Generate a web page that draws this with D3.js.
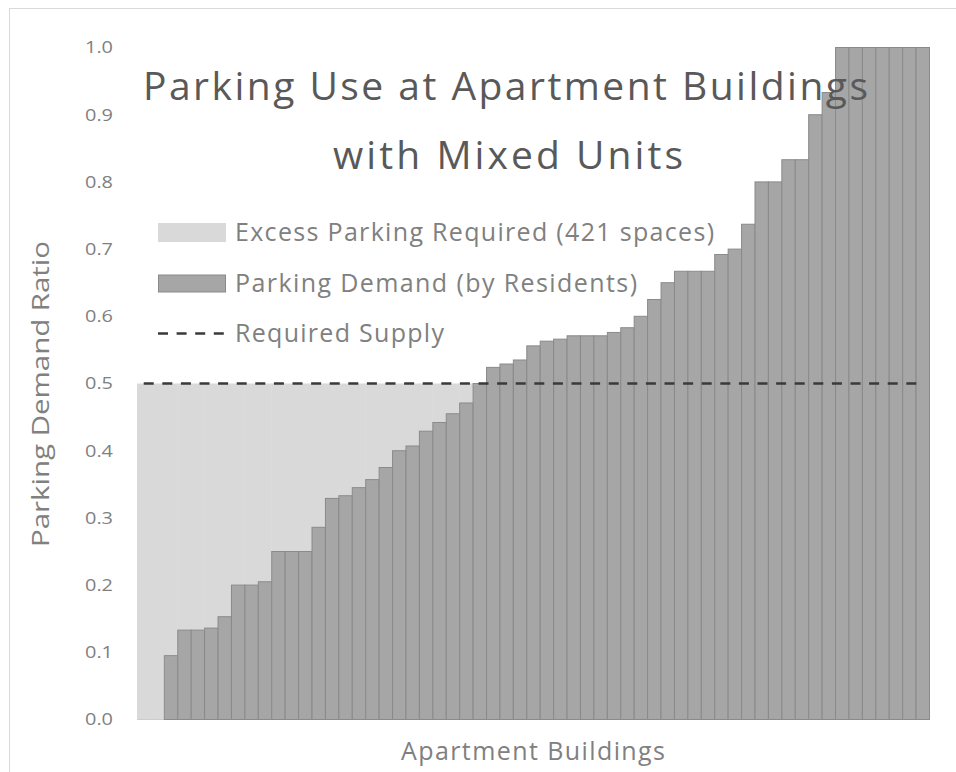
<!DOCTYPE html>
<html>
<head>
<meta charset="utf-8">
<script src="https://cdn.jsdelivr.net/npm/d3@7"></script>
<style>
  body { margin: 0; background: #fff; }
  svg { font-family: "Open Sans", "Lato", sans-serif; }
</style>
</head>
<body>
<div id="chart"></div>
<script>
// demand ratio per building, sorted ascending (first two buildings have no resident parking)
const demand = [
  0, 0,
  0.095, 0.133, 0.133, 0.136, 0.153, 0.2, 0.2, 0.205, 0.25, 0.25,
  0.25, 0.286, 0.329, 0.333, 0.345, 0.357, 0.375, 0.4, 0.407, 0.429,
  0.442, 0.455, 0.471, 0.5, 0.524, 0.529, 0.535, 0.556, 0.563, 0.566,
  0.571, 0.571, 0.571, 0.576, 0.583, 0.6, 0.625, 0.65, 0.667, 0.667,
  0.667, 0.692, 0.7, 0.737, 0.8, 0.8, 0.833, 0.833, 0.9, 0.933,
  1, 1, 1, 1, 1, 1, 1
];
const buildings = demand.map((d, i) => "B" + (i + 1));
const requiredSupply = 0.5;
const yTicks = [0, 0.1, 0.2, 0.3, 0.4, 0.5, 0.6, 0.7, 0.8, 0.9, 1.0];
const titleLines = ["Parking Use at Apartment Buildings", "with Mixed Units"];
const legendLabels = ["Excess Parking Required (421 spaces)", "Parking Demand (by Residents)", "Required Supply"];

const W = 956, H = 772;
const plot = { left: 137, right: 929, top: 47.5, bottom: 719.5 };

const svg = d3.select("#chart").append("svg")
  .attr("width", W)
  .attr("height", H);

// chart frame (cut off on the right / bottom like the source)
svg.append("rect")
  .attr("x", 9.5).attr("y", 8.5)
  .attr("width", W + 20).attr("height", H + 20)
  .attr("fill", "none")
  .attr("stroke", "#d9d9d9");

const x = d3.scaleBand().domain(buildings).range([plot.left, plot.right]).padding(0);
const y = d3.scaleLinear().domain([0, 1]).range([plot.bottom, plot.top]);

// y axis labels
const yAxis = svg.append("g")
  .attr("transform", `translate(${plot.left},0)`)
  .call(d3.axisLeft(y).tickValues(yTicks).tickSize(0).tickPadding(24).tickFormat(d3.format(".1f")));
yAxis.select(".domain").remove();
yAxis.selectAll("text")
  .attr("fill", "#808080")
  .attr("font-size", 17)
  .attr("font-family", "'Open Sans', sans-serif")
  .attr("textLength", 28)
  .attr("lengthAdjust", "spacingAndGlyphs");

// x axis line
svg.append("line")
  .attr("x1", plot.left).attr("x2", plot.right)
  .attr("y1", plot.bottom).attr("y2", plot.bottom)
  .attr("stroke", "#bfbfbf");

// excess parking (stacked on top of demand up to the required supply)
svg.append("g").selectAll("rect")
  .data(demand.map((d, i) => ({ b: buildings[i], d })).filter((e) => e.d < requiredSupply))
  .join("rect")
  .attr("x", (e) => x(e.b))
  .attr("width", x.bandwidth() + 0.5)
  .attr("y", y(requiredSupply))
  .attr("height", (e) => y(e.d) - y(requiredSupply))
  .attr("fill", "#d9d9d9");

// demand bars
svg.append("g").selectAll("rect")
  .data(demand.map((d, i) => ({ b: buildings[i], d })).filter((e) => e.d > 0))
  .join("rect")
  .attr("x", (e) => x(e.b) + 0.5)
  .attr("width", x.bandwidth())
  .attr("y", (e) => y(e.d))
  .attr("height", (e) => y(0) - y(e.d))
  .attr("fill", "#a6a6a6")
  .attr("stroke", "#8a8a8a")
  .attr("stroke-width", 1);

// required supply line
svg.append("path")
  .datum(buildings)
  .attr("fill", "none")
  .attr("stroke", "#3a3a3a")
  .attr("stroke-width", 2.6)
  .attr("stroke-dasharray", "10,8.6")
  .attr("d", d3.line().x((b) => x(b) + x.bandwidth() / 2).y(() => y(requiredSupply)));

// title
const titleWidths = [725, 350];
svg.append("g").selectAll("text")
  .data(titleLines)
  .join("text")
  .attr("x", (d, i) => i === 0 ? 505.5 : 508)
  .attr("y", (d, i) => 100 + i * 69)
  .attr("text-anchor", "middle")
  .attr("font-size", 39)
  .attr("fill", "#595959")
  .attr("textLength", (d, i) => titleWidths[i])
  .attr("lengthAdjust", "spacing")
  .text((d) => d);

// legend
const legend = svg.append("g").attr("transform", "translate(158,0)");
const rowY = [232.5, 283.5, 333.5];
const legendWidths = [479, 402, 209];
legend.append("rect")
  .attr("x", 0).attr("y", rowY[0] - 9.5).attr("width", 68).attr("height", 19)
  .attr("fill", "#d9d9d9");
legend.append("rect")
  .attr("x", 0.5).attr("y", rowY[1] - 8.5).attr("width", 67).attr("height", 17)
  .attr("fill", "#a6a6a6").attr("stroke", "#8a8a8a");
legend.append("line")
  .attr("x1", 0).attr("x2", 68).attr("y1", rowY[2]).attr("y2", rowY[2])
  .attr("stroke", "#3a3a3a").attr("stroke-width", 2.6)
  .attr("stroke-dasharray", "10,8.6");
legend.selectAll("text")
  .data(legendLabels)
  .join("text")
  .attr("x", 77)
  .attr("y", (d, i) => rowY[i] + 8.5)
  .attr("font-size", 25)
  .attr("fill", "#808080")
  .attr("textLength", (d, i) => legendWidths[i])
  .attr("lengthAdjust", "spacing")
  .text((d) => d);

// axis titles
svg.append("text")
  .attr("transform", "translate(49,394) rotate(-90)")
  .attr("text-anchor", "middle")
  .attr("font-size", 24)
  .attr("fill", "#808080")
  .attr("textLength", 306)
  .attr("lengthAdjust", "spacingAndGlyphs")
  .text("Parking Demand Ratio");

svg.append("text")
  .attr("x", 533)
  .attr("y", 760)
  .attr("text-anchor", "middle")
  .attr("font-size", 25)
  .attr("fill", "#808080")
  .attr("textLength", 264)
  .attr("lengthAdjust", "spacing")
  .text("Apartment Buildings");
</script>
</body>
</html>
